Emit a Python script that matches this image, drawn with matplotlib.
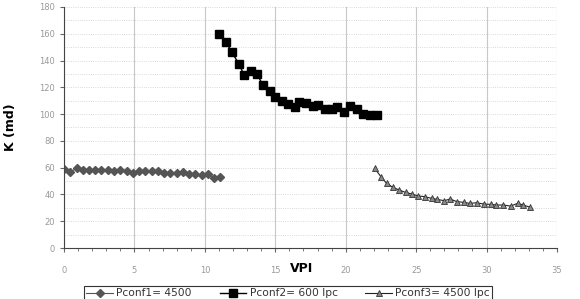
import matplotlib
matplotlib.use("Agg")
import matplotlib.pyplot as plt
from matplotlib.ticker import MultipleLocator

# Series 1: Pconf1 = 4500
x1 = [0.0, 0.44, 0.89, 1.33, 1.78, 2.22, 2.66, 3.11, 3.55, 4.0, 4.44, 4.88, 5.33,
      5.77, 6.22, 6.66, 7.1, 7.55, 7.99, 8.44, 8.88, 9.32, 9.77, 10.21, 10.66, 11.1]
y1 = [58.8, 56.7, 59.5, 58.3, 58.3, 58.3, 58.3, 58.3, 57.8, 58.0, 57.5, 56.0, 57.8,
      57.6, 57.3, 57.5, 56.2, 56.0, 55.8, 57.0, 55.5, 55.0, 54.5, 55.0, 52.6, 52.8]

# Series 2: Pconf2 = 600 lpc
x2 = [11.0, 11.5, 11.9, 12.4, 12.8, 13.3, 13.7, 14.1, 14.6, 15.0, 15.5, 15.9, 16.4,
      16.7, 17.2, 17.7, 18.0, 18.5, 19.0, 19.4, 19.9, 20.3, 20.8, 21.2, 21.7, 22.2]
y2 = [160.2, 154.0, 146.5, 137.8, 129.0, 132.0, 130.0, 122.0, 117.0, 113.0, 109.7, 107.5, 105.0,
      108.7, 108.5, 106.0, 107.0, 104.0, 104.0, 105.0, 101.7, 106.0, 103.5, 100.0, 99.0, 99.0]

# Series 3: Pconf3 = 4500 lpc
x3 = [22.06, 22.5, 22.9, 23.35, 23.8, 24.25, 24.7, 25.1, 25.6, 26.1, 26.5, 27.0, 27.4,
      27.9, 28.4, 28.8, 29.3, 29.8, 30.3, 30.7, 31.2, 31.7, 32.2, 32.6, 33.1]
y3 = [59.5, 53.2, 48.3, 45.3, 43.3, 41.5, 40.3, 39.0, 38.3, 37.1, 36.3, 35.3, 36.6,
      34.6, 34.1, 33.3, 33.8, 32.8, 32.6, 32.1, 32.1, 31.3, 33.3, 32.1, 30.4]

labels = ["Pconf1= 4500", "Pconf2= 600 lpc", "Pconf3= 4500 lpc"]

fig = plt.figure(figsize=(5.8, 2.99), dpi=100)
ax = fig.add_axes([64/580, 1-248/299, (557-64)/580, (248-7)/299])

ax.plot(x1, y1, color="#555555", lw=0.8, marker="D", ms=3.6, mfc="#555555", mec="#555555", label=labels[0])
ax.plot(x2, y2, color="black", lw=1.0, marker="s", ms=5.5, mfc="black", mec="black", label=labels[1])
ax.plot(x3, y3, color="#222222", lw=0.8, marker="^", ms=5, mfc="#888888", mec="#333333", mew=0.6, label=labels[2])

ax.set_xlim(0, 35)
ax.set_ylim(0, 180)
ax.xaxis.set_major_locator(MultipleLocator(5))
ax.xaxis.set_minor_locator(MultipleLocator(1))
ax.yaxis.set_major_locator(MultipleLocator(20))
ax.yaxis.set_minor_locator(MultipleLocator(10))

ax.grid(True, which="major", axis="x", color="#c8c8c8", lw=0.8, ls="-")
ax.grid(True, which="both", axis="y", color="#cccccc", lw=0.6, ls=":")
ax.set_axisbelow(True)

for s in ["top", "right"]:
    ax.spines[s].set_visible(False)
ax.spines["left"].set_color("#444444")
ax.spines["bottom"].set_color("#444444")

ax.tick_params(axis="both", which="major", labelsize=6, labelcolor="#999999", color="#666666",
               length=3, direction="out")
ax.tick_params(axis="x", which="major", pad=10)
ax.tick_params(axis="x", which="minor", length=2, color="#666666", direction="out")
ax.tick_params(axis="y", which="minor", length=0)

ax.set_xlabel("VPI", fontsize=9, fontweight="bold")
ax.xaxis.set_label_coords(0.482, -0.06)
ax.set_ylabel("K (md)", fontsize=9, fontweight="bold")
ax.yaxis.set_label_coords(-0.095, 0.5)

leg = fig.legend(loc="upper left", bbox_to_anchor=(79/580, 1-281/299), ncol=3, fontsize=7.7,
                 frameon=True, fancybox=False, edgecolor="black", borderpad=0.2,
                 columnspacing=2.6, handlelength=2.5, handletextpad=0.3)
leg.get_frame().set_linewidth(0.8)
for t in leg.get_texts():
    t.set_color("#333333")

fig.savefig("out.png", dpi=100)
